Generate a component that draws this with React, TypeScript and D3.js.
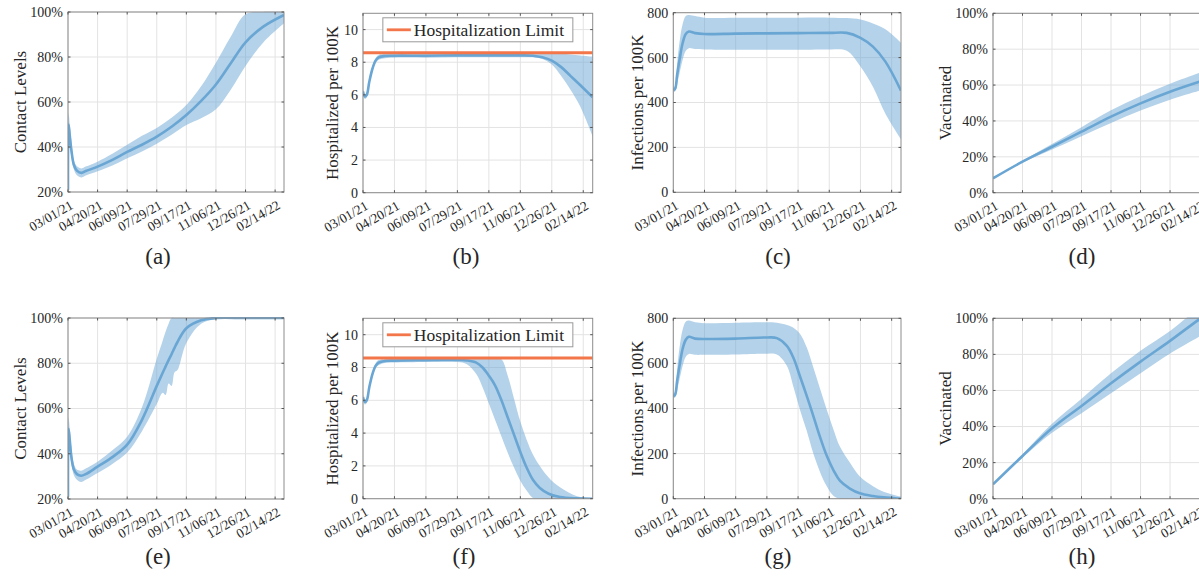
import React from 'react';
import * as d3 from 'd3';

// x axis: days since 03/01/21, ticks every 50 days
const tickDays = [0, 50, 100, 150, 200, 250, 300, 350];
const tickLabels = ['03/01/21', '04/20/21', '06/09/21', '07/29/21', '09/17/21', '11/06/21', '12/26/21', '02/14/22'];
const hospLimit = 8.58;

// (a) contact levels, scenario 1
const aDays = [0, 1, 3, 6, 10, 15, 23, 30, 50, 75, 100, 125, 150, 175, 200, 225, 250, 275, 300, 330, 365];
const aMid = [21, 50, 45, 38, 32, 29.5, 28.5, 29.3, 31.3, 34.3, 37.8, 41, 44.6, 49, 54.2, 60.5, 67.8, 77.2, 86.5, 93.5, 98.7];
const aHigh = [22, 55, 50, 42, 34, 31.5, 30.5, 31.3, 33.5, 37, 41, 45, 48.5, 53, 58.7, 67, 77.5, 89, 99, 100, 100];
const aLow = [20.5, 46, 41, 35, 30, 27.5, 26.5, 27.3, 29.2, 31.8, 35, 38, 41.5, 45.5, 49.8, 52.8, 56.8, 65.5, 76, 86.5, 95];

// (b) hospitalized, scenario 1
const bDays = [0, 3, 6, 10, 15, 20, 25, 35, 50, 100, 150, 200, 250, 270, 285, 300, 315, 330, 345, 365];
const bMid = [6.2, 5.9, 6.0, 6.8, 7.6, 8.1, 8.3, 8.38, 8.4, 8.4, 8.42, 8.42, 8.42, 8.4, 8.3, 8.1, 7.7, 7.15, 6.6, 5.85];
const bHigh = [6.35, 6.05, 6.15, 6.95, 7.75, 8.25, 8.45, 8.5, 8.52, 8.52, 8.53, 8.53, 8.54, 8.54, 8.54, 8.54, 8.52, 8.48, 8.42, 8.35];
const bLow = [6.05, 5.75, 5.85, 6.65, 7.45, 7.95, 8.15, 8.25, 8.28, 8.28, 8.3, 8.3, 8.3, 8.3, 8.2, 7.86, 7.15, 6.3, 5.3, 3.45];

// (c) infections, scenario 1
const cDays = [0, 3, 6, 10, 15, 20, 25, 35, 50, 100, 150, 200, 250, 278, 300, 320, 340, 365];
const cMid = [455, 462, 520, 590, 665, 705, 716, 709, 705, 707, 708, 709, 710, 710, 688, 649, 582, 453];
const cHigh = [465, 475, 570, 670, 750, 785, 790, 785, 778, 778, 778, 778, 778, 776, 770, 752, 726, 666];
const cLow = [445, 450, 480, 530, 590, 630, 642, 638, 636, 635, 635, 635, 636, 630, 560, 470, 350, 236];

// (d) vaccinated, scenario 1
const dDays = [0, 50, 100, 150, 200, 250, 300, 350, 365];
const dMid = [8, 17.3, 25.6, 34, 42.4, 49.8, 56.3, 61.9, 63.5];
const dHigh = [8.2, 17.8, 27.1, 36.5, 45.9, 53.8, 60.8, 66.9, 68.6];
const dLow = [7.8, 16.8, 24.1, 31.5, 38.9, 45.8, 51.8, 56.9, 58.4];

// (e) contact levels, scenario 2
const eDays = [0, 1, 3, 6, 10, 15, 22, 30, 50, 75, 100, 125, 150, 160, 165, 170, 175, 180, 185, 200, 225, 250, 300, 365];
const eMid = [21, 51, 46, 38, 33, 31, 30.3, 31, 34.3, 38.5, 44, 55, 70, 75.8, 78.6, 81.4, 84, 86.8, 89.4, 95.5, 99, 100, 100, 100];
const eHigh = [22, 56, 51, 42, 35.5, 33, 32.5, 33.5, 36.5, 41.5, 47.5, 60.5, 82, 90, 94, 97.5, 100, 100, 100, 100, 100, 100, 100, 100];
const eLow = [20.5, 46, 41, 35, 30.5, 28.5, 27.5, 28.5, 31.5, 35.5, 40.5, 50, 62, 67, 66, 71, 70, 76, 77, 89, 97.5, 99.5, 100, 100];

// (f) hospitalized, scenario 2
const fDays = [0, 3, 6, 10, 15, 20, 25, 35, 50, 100, 150, 165, 180, 190, 200, 210, 220, 230, 240, 250, 260, 270, 281, 295, 313, 340, 365];
const fMid = [6.2, 5.9, 6.0, 6.8, 7.6, 8.1, 8.3, 8.4, 8.42, 8.45, 8.46, 8.43, 8.3, 8.0, 7.5, 6.9, 6.0, 4.95, 3.9, 2.85, 1.9, 1.15, 0.65, 0.3, 0.1, 0.02, 0];
const fHigh = [6.35, 6.05, 6.15, 6.95, 7.75, 8.25, 8.45, 8.52, 8.54, 8.55, 8.56, 8.56, 8.56, 8.56, 8.56, 8.56, 8.5, 7.5, 6.1, 4.7, 3.6, 2.7, 2.0, 1.3, 0.7, 0.15, 0.02];
const fLow = [6.05, 5.75, 5.85, 6.65, 7.45, 7.95, 8.15, 8.28, 8.3, 8.33, 8.33, 8.2, 7.6, 6.8, 5.8, 4.8, 3.8, 2.8, 1.9, 1.1, 0.5, 0.05, 0, 0, 0, 0, 0];

// (g) infections, scenario 2
const gDays = [0, 3, 6, 10, 15, 20, 25, 35, 50, 100, 150, 166, 182, 193, 203, 214, 224, 235, 246, 257, 267, 283, 299, 320, 337, 365];
const gMid = [455, 462, 520, 590, 665, 705, 718, 710, 708, 710, 715, 712, 678, 622, 543, 455, 371, 275, 190, 125, 80, 45, 24, 12, 6, 0];
const gHigh = [465, 475, 570, 670, 750, 785, 790, 782, 778, 780, 782, 780, 770, 757, 732, 670, 586, 490, 395, 305, 231, 160, 98, 55, 31, 9];
const gLow = [445, 450, 480, 530, 590, 630, 642, 638, 638, 640, 643, 640, 590, 492, 395, 300, 205, 120, 55, 12, 0, 0, 0, 0, 0, 0];

// (h) vaccinated, scenario 2
const hDays = [0, 50, 100, 150, 200, 250, 300, 350, 365];
const hMid = [8, 23.7, 39, 51.4, 64, 76, 87.5, 99.5, 102.5];
const hHigh = [8.2, 24.7, 41.5, 55.4, 69.5, 82, 93, 106, 109];
const hLow = [7.8, 22.7, 36.5, 47.4, 58.5, 69.5, 80.5, 90, 93];

const contactTicks = [20, 40, 60, 80, 100];
const hospTicks = [0, 2, 4, 6, 8, 10];
const infTicks = [0, 200, 400, 600, 800];
const vaccTicks = [0, 20, 40, 60, 80, 100];

const pct = (v: number) => `${v}%`;
const num = (v: number) => `${v}`;

const FONT = "'Liberation Serif', 'Times New Roman', serif";
const BLUE = '#6aa6d4';
const BAND = '#6aa6d4';
const ORANGE = '#f3764a';
const TXT = '#262626';

const panels = [
  { id: 'a', tag: '(a)', tagX: 158, tagY: 264, ylabel: 'Contact Levels', ylabelX: 20, days: aDays, mid: aMid, high: aHigh, low: aLow, yDomain: [20, 100], yTicks: contactTicks, fmt: pct, box: { l: 68, r: 284, t: 12, b: 192 } },
  { id: 'b', tag: '(b)', tagX: 466, tagY: 264, ylabel: 'Hospitalized per 100K', ylabelX: 332, days: bDays, mid: bMid, high: bHigh, low: bLow, yDomain: [0, 11], yTicks: hospTicks, fmt: num, box: { l: 363, r: 592.7, t: 13.3, b: 192.7 }, limit: true },
  { id: 'c', tag: '(c)', tagX: 778, tagY: 264, ylabel: 'Infections per 100K', ylabelX: 637, days: cDays, mid: cMid, high: cHigh, low: cLow, yDomain: [0, 800], yTicks: infTicks, fmt: num, box: { l: 673.3, r: 901, t: 12.7, b: 192.3 } },
  { id: 'd', tag: '(d)', tagX: 1082, tagY: 264, ylabel: 'Vaccinated', ylabelX: 945, days: dDays, mid: dMid, high: dHigh, low: dLow, yDomain: [0, 100], yTicks: vaccTicks, fmt: pct, box: { l: 993, r: 1208.4, t: 13.3, b: 192.7 } },
  { id: 'e', tag: '(e)', tagX: 158, tagY: 564, ylabel: 'Contact Levels', ylabelX: 20, days: eDays, mid: eMid, high: eHigh, low: eLow, yDomain: [20, 100], yTicks: contactTicks, fmt: pct, box: { l: 68, r: 284, t: 318, b: 499 } },
  { id: 'f', tag: '(f)', tagX: 464, tagY: 564, ylabel: 'Hospitalized per 100K', ylabelX: 332, days: fDays, mid: fMid, high: fHigh, low: fLow, yDomain: [0, 11], yTicks: hospTicks, fmt: num, box: { l: 363, r: 592.7, t: 318.3, b: 498.7 }, limit: true },
  { id: 'g', tag: '(g)', tagX: 778, tagY: 564, ylabel: 'Infections per 100K', ylabelX: 637, days: gDays, mid: gMid, high: gHigh, low: gLow, yDomain: [0, 800], yTicks: infTicks, fmt: num, box: { l: 673.3, r: 901, t: 318.3, b: 498.7 } },
  { id: 'h', tag: '(h)', tagX: 1082, tagY: 564, ylabel: 'Vaccinated', ylabelX: 945, days: hDays, mid: hMid, high: hHigh, low: hLow, yDomain: [0, 100], yTicks: vaccTicks, fmt: pct, box: { l: 993, r: 1208.4, t: 318.3, b: 498.7 } },
];

const Panel = ({ p }: { p: any }) => {
  const { l, r, t, b } = p.box;
  const x = d3.scaleLinear().domain([0, 365]).range([l, r]);
  const y = d3.scaleLinear().domain(p.yDomain).range([b, t]);
  const idx = d3.range(p.days.length);
  const curve = d3.curveCatmullRom.alpha(0.5);
  const area = d3.area<number>()
    .x(i => x(p.days[i]))
    .y0(i => y(p.low[i]))
    .y1(i => y(p.high[i]))
    .curve(curve);
  const line = d3.line<number>()
    .x(i => x(p.days[i]))
    .y(i => y(p.mid[i]))
    .curve(curve);
  const clipId = `clip-${p.id}`;
  const legW = 190, legH = 24;
  const legX = (l + r) / 2 - legW / 2;
  const legY = t + 4.5;

  return (
    <g>
      <clipPath id={clipId}>
        <rect x={l} y={t - 1} width={r - l} height={b - t + 1} />
      </clipPath>
      <rect x={l} y={t} width={r - l} height={b - t} fill="#fff" />
      {/* grid */}
      {tickDays.map(d => (
        <line key={'gx' + d} x1={x(d)} x2={x(d)} y1={t} y2={b} stroke="#e3e3e3" strokeWidth={1} />
      ))}
      {p.yTicks.map((v: number) => (
        <line key={'gy' + v} x1={l} x2={r} y1={y(v)} y2={y(v)} stroke="#e3e3e3" strokeWidth={1} />
      ))}
      <g clipPath={`url(#${clipId})`}>
        <path d={area(idx) || ''} fill={BAND} fillOpacity={0.5} />
        <path d={line(idx) || ''} fill="none" stroke={BLUE} strokeWidth={2.6} />
        {p.limit && (
          <line x1={l} x2={r} y1={y(hospLimit)} y2={y(hospLimit)} stroke={ORANGE} strokeWidth={2.8} />
        )}
      </g>
      {/* box and ticks */}
      <rect x={l} y={t} width={r - l} height={b - t} fill="none" stroke="#8c8c8c" strokeWidth={1} />
      {tickDays.map(d => (
        <g key={'tx' + d}>
          <line x1={x(d)} x2={x(d)} y1={b} y2={b - 2.5} stroke="#555" />
          <line x1={x(d)} x2={x(d)} y1={t} y2={t + 2.5} stroke="#555" />
        </g>
      ))}
      {p.yTicks.map((v: number) => (
        <g key={'ty' + v}>
          <line x1={l} x2={l + 2.5} y1={y(v)} y2={y(v)} stroke="#555" />
          <line x1={r} x2={r - 2.5} y1={y(v)} y2={y(v)} stroke="#555" />
        </g>
      ))}
      {/* tick labels */}
      {tickDays.map((d, i) => (
        <text key={'lx' + d} transform={`translate(${x(d) + 1},${b + 7}) rotate(-30)`} textAnchor="end" dy="0.75em"
          fontSize={13.5} fill={TXT}>{tickLabels[i]}</text>
      ))}
      {p.yTicks.map((v: number) => (
        <text key={'ly' + v} x={l - 5} y={y(v)} dy="0.35em" textAnchor="end" fontSize={14} fill={TXT}>{p.fmt(v)}</text>
      ))}
      <text transform={`translate(${p.ylabelX},${(t + b) / 2}) rotate(-90)`} textAnchor="middle" dy="0.35em"
        fontSize={17} fill={TXT}>{p.ylabel}</text>
      <text x={p.tagX} y={p.tagY} textAnchor="middle" fontSize={23} fill={TXT}>{p.tag}</text>
      {p.limit && (
        <g>
          <rect x={legX} y={legY} width={legW} height={legH} fill="#fff" stroke="#999" strokeWidth={1} />
          <line x1={legX + 4} x2={legX + 28} y1={legY + legH / 2} y2={legY + legH / 2} stroke={ORANGE} strokeWidth={2.8} />
          <text x={legX + 31} y={legY + legH / 2} dy="0.35em" fontSize={17.5} fill={TXT}>Hospitalization Limit</text>
        </g>
      )}
    </g>
  );
};

export default function App() {
  return (
    <svg width={1199} height={581} style={{ position: 'absolute', left: 0, top: 0, background: '#fff', fontFamily: FONT }}>
      <rect width={1199} height={581} fill="#fff" />
      {panels.map(p => <Panel key={p.id} p={p} />)}
    </svg>
  );
}
